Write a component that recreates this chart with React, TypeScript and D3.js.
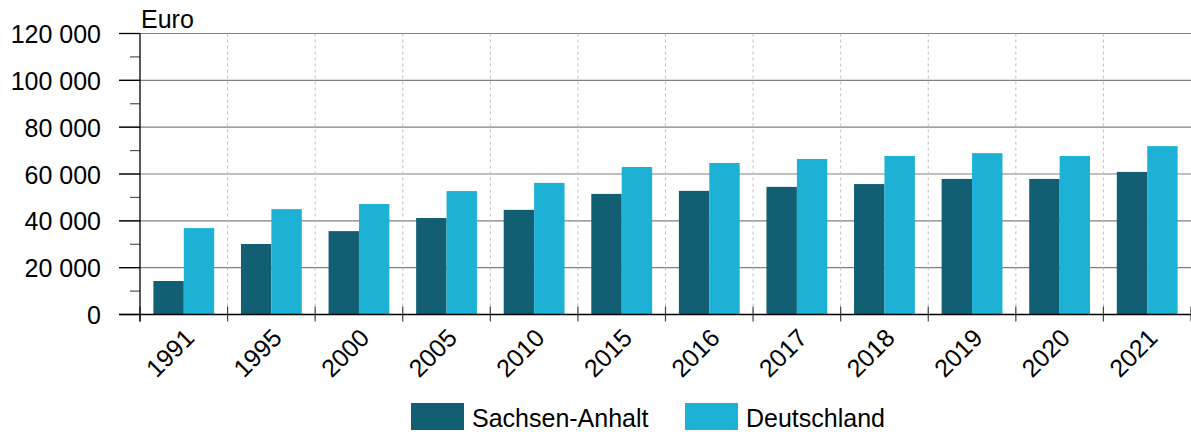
import React from "react";
import * as d3 from "d3";

const years = ["1991", "1995", "2000", "2005", "2010", "2015", "2016", "2017", "2018", "2019", "2020", "2021"];
const sachsenAnhalt = [14300, 30100, 35600, 41200, 44700, 51500, 52800, 54500, 55700, 57900, 57900, 60900];
const deutschland = [36900, 45000, 47200, 52700, 56200, 63000, 64700, 66400, 67700, 68900, 67700, 71900];
const seriesNames = ["Sachsen-Anhalt", "Deutschland"];
const seriesColors = ["#125f73", "#1db1d6"];
const yTicks = [0, 20000, 40000, 60000, 80000, 100000, 120000];
const yMinorTicks = [10000, 30000, 50000, 70000, 90000, 110000];

const W = 1191,
  H = 432;
const left = 140,
  right = 1191,
  top = 33.5,
  bottom = 314.5;
const font = "'Liberation Sans', Arial, sans-serif";

const fmt = (v: number) => d3.format(",")(v).replace(/,/g, " ");

const App = () => {
  const ref = React.useRef<SVGSVGElement>(null);

  React.useEffect(() => {
    document.body.style.margin = "0";
    const svg = d3.select(ref.current);
    svg.selectAll("*").remove();

    const x = d3.scaleBand().domain(years).range([left, right]).padding(0);
    const x1 = d3
      .scaleBand()
      .domain(seriesNames)
      .range([0, x.bandwidth()])
      .paddingInner(0)
      .paddingOuter(0.44);
    const y = d3.scaleLinear().domain([0, 120000]).range([bottom, top]);

    // horizontal grid
    svg
      .append("g")
      .selectAll("line")
      .data(yTicks.slice(1))
      .join("line")
      .attr("x1", left - 21)
      .attr("x2", right)
      .attr("y1", (d) => y(d))
      .attr("y2", (d) => y(d))
      .attr("stroke", "#808080")
      .attr("stroke-width", 1.2);

    // minor ticks
    svg
      .append("g")
      .selectAll("line")
      .data(yMinorTicks)
      .join("line")
      .attr("x1", left - 10)
      .attr("x2", left)
      .attr("y1", (d) => y(d))
      .attr("y2", (d) => y(d))
      .attr("stroke", "#555")
      .attr("stroke-width", 1.2);

    // vertical dashed grid
    svg
      .append("g")
      .selectAll("line")
      .data(years.slice(1))
      .join("line")
      .attr("x1", (d) => x(d)!)
      .attr("x2", (d) => x(d)!)
      .attr("y1", top)
      .attr("y2", bottom)
      .attr("stroke", "#c0c0c0")
      .attr("stroke-dasharray", "3,3");

    // bars
    const data = [sachsenAnhalt, deutschland];
    const g = svg
      .append("g")
      .selectAll("g")
      .data(years)
      .join("g")
      .attr("transform", (d) => `translate(${x(d)},0)`);
    g.selectAll("rect")
      .data((d, i) => seriesNames.map((s, k) => ({ s, v: data[k][i], c: seriesColors[k] })))
      .join("rect")
      .attr("x", (d) => x1(d.s)!)
      .attr("width", x1.bandwidth())
      .attr("y", (d) => y(d.v))
      .attr("height", (d) => y(0) - y(d.v))
      .attr("fill", (d) => d.c);

    // x axis ticks
    svg
      .append("g")
      .selectAll("line")
      .data(years.map((d) => x(d)!).concat([right]))
      .join("line")
      .attr("x1", (d) => d)
      .attr("x2", (d) => d)
      .attr("y1", bottom - 8)
      .attr("y2", bottom + 7)
      .attr("stroke", "#444")
      .attr("stroke-width", 1.2);

    // zero line
    svg
      .append("line")
      .attr("x1", left - 21)
      .attr("x2", right)
      .attr("y1", bottom)
      .attr("y2", bottom)
      .attr("stroke", "#000")
      .attr("stroke-width", 1.5);

    // y axis line
    svg
      .append("line")
      .attr("x1", left)
      .attr("x2", left)
      .attr("y1", top)
      .attr("y2", bottom + 7)
      .attr("stroke", "#000")
      .attr("stroke-width", 1.3);

    // major y ticks
    svg
      .append("g")
      .selectAll("line")
      .data(yTicks)
      .join("line")
      .attr("x1", left - 21)
      .attr("x2", left)
      .attr("y1", (d) => y(d))
      .attr("y2", (d) => y(d))
      .attr("stroke", "#000")
      .attr("stroke-width", 1.3);

    // y labels
    svg
      .append("g")
      .selectAll("text")
      .data(yTicks)
      .join("text")
      .attr("x", 101)
      .attr("y", (d) => y(d) + 9.5)
      .attr("text-anchor", "end")
      .attr("font-family", font)
      .attr("font-size", 25)
      .attr("fill", "#000")
      .text((d) => fmt(d));

    svg
      .append("text")
      .attr("x", 141)
      .attr("y", 28)
      .attr("font-family", font)
      .attr("font-size", 25)
      .text("Euro");

    // x labels
    svg
      .append("g")
      .selectAll("text")
      .data(years)
      .join("text")
      .attr("transform", (d) => `translate(${x(d)! + x.bandwidth() / 2 + 12},${bottom + 25}) rotate(-45)`)
      .attr("text-anchor", "end")
      .attr("font-family", font)
      .attr("font-size", 25)
      .text((d) => d);

    // legend
    const legendX = [411, 685];
    const lg = svg
      .append("g")
      .selectAll("g")
      .data(seriesNames)
      .join("g")
      .attr("transform", (d, i) => `translate(${legendX[i]},403)`);
    lg.append("rect")
      .attr("width", 53)
      .attr("height", 27)
      .attr("fill", (d, i) => seriesColors[i]);
    lg.append("text")
      .attr("x", 61)
      .attr("y", 23.5)
      .attr("font-family", font)
      .attr("font-size", 25)
      .text((d) => d);
  }, []);

  return <svg ref={ref} width={W} height={H} style={{ display: "block" }} />;
};

export default App;
